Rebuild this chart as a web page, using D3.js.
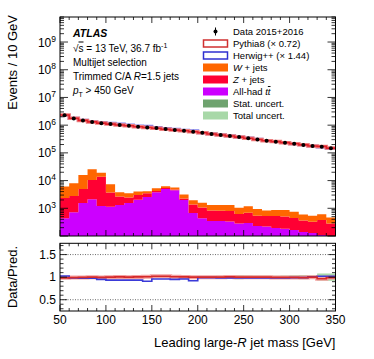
<!DOCTYPE html>
<html>
<head>
<meta charset="utf-8">
<script src="https://cdn.jsdelivr.net/npm/d3@7"></script>
<style>
  body { margin: 0; background: #fff; }
  svg { display: block; font-family: "Liberation Sans", Arial, Helvetica, sans-serif; }
</style>
</head>
<body>
<svg id="viz"></svg>
<script>
// bin edges of the leading large-R jet mass [GeV]
var edges = [50,60,70,80,90,100,110,120,130,140,150,160,170,180,190,200,210,220,230,240,250,260,270,280,290,300,310,320,330,340,350];

// events / 10 GeV
var dataEvents = [2300000,1750000,1480000,1310000,1180000,1090000,1020000,950000,880000,830000,790000,730000,670000,630000,580000,530000,480000,440000,410000,370000,337000,305000,275000,254000,233000,213000,193000,177000,165000,147000];
var ttbar = [435,720,1550,2110,1210,1140,1320,1550,2040,2560,3810,4980,4460,2000,680,435,350,350,335,280,295,230,220,195,182,165,140,128,109,80];
var zjets = [1925,2060,3430,8390,12590,2580,1350,900,980,920,410,430,310,260,690,635,480,470,465,340,395,310,310,335,328,285,220,202,271,200];
var wjets = [3740,5220,10920,15100,5500,3680,1110,1030,1020,630,1060,820,870,890,570,520,480,490,510,430,500,400,300,340,360,300,240,210,230,190];

// data / prediction
var ratioPythia = [0.985,0.99,0.995,1.0,0.995,1.0,1.005,1.0,1.005,1.01,1.02,1.02,1.01,1.005,1.0,1.0,1.0,1.0,1.005,1.0,1.0,1.0,1.0,0.995,0.995,0.995,0.99,1.0,0.965,0.99];
var ratioHerwig = [1.025,0.98,0.978,0.978,0.95,0.935,0.935,0.935,0.935,0.91,0.96,0.96,0.95,0.96,0.92,0.99,0.99,0.985,0.985,0.985,0.985,0.985,0.985,0.985,0.985,0.99,0.99,1.01,1.02,1.02];
var statUnc = [0.005,0.005,0.005,0.005,0.005,0.005,0.005,0.005,0.005,0.005,0.006,0.006,0.006,0.007,0.007,0.008,0.008,0.009,0.01,0.01,0.011,0.012,0.012,0.013,0.014,0.015,0.016,0.017,0.02,0.022];
var totalUnc = [0.015,0.015,0.015,0.015,0.015,0.015,0.015,0.015,0.015,0.015,0.015,0.015,0.015,0.02,0.02,0.025,0.025,0.03,0.04,0.045,0.04,0.035,0.035,0.03,0.035,0.04,0.045,0.04,0.08,0.08];

var xTickLabels = [50,100,150,200,250,300,350];
var ratioTickLabels = [0.5,1,1.5];
var decadeLabels = [3,4,5,6,7,8,9];

var width = 374, height = 359;
var svg = d3.select('#viz').attr('width', width).attr('height', height);

var x = d3.scaleLinear().domain([50, 350]).range([60, 335.5]);
var y = d3.scaleLog().domain([100, 8e9]).range([236, 17]);
var yr = d3.scaleLinear().domain([0.25, 1.75]).range([311, 243.3]);

var nb = dataEvents.length;
var rows = d3.range(nb).map(function(i){
    return {lo: edges[i], hi: edges[i+1], tt: ttbar[i], z: zjets[i], w: wjets[i]};
});

svg.append('clipPath').attr('id', 'clipMain')
   .append('rect').attr('x', 60).attr('y', 17).attr('width', 275.5).attr('height', 219);
svg.append('clipPath').attr('id', 'clipRatio')
   .append('rect').attr('x', 60).attr('y', 243.3).attr('width', 275.5).attr('height', 67.7);

// step points helper: two points per bin
function steps(vals){
    var pts = [];
    vals.forEach(function(v, i){
        pts.push([edges[i], v]);
        pts.push([edges[i+1], v]);
    });
    return pts;
}

/***************** main panel *****************/
var gMain = svg.append('g').attr('clip-path', 'url(#clipMain)');

var stack = d3.stack().keys(['tt', 'z', 'w']);
var layers = stack(rows);
var colors = {tt: '#cc00ff', z: '#ff0033', w: '#ff6600'};

var area = d3.area()
    .x(function(d){ return x(d.x); })
    .y0(function(d){ return y(Math.max(d.y0, 1)); })
    .y1(function(d){ return y(Math.max(d.y1, 1)); });

layers.forEach(function(layer){
    var pts = [];
    layer.forEach(function(d, i){
        pts.push({x: edges[i], y0: d[0], y1: d[1]});
        pts.push({x: edges[i+1], y0: d[0], y1: d[1]});
    });
    gMain.append('path')
         .attr('d', area(pts))
         .attr('fill', colors[layer.key]);
});

var line = d3.line()
    .x(function(d){ return x(d[0]); })
    .y(function(d){ return y(d[1]); });

var herwigPred = dataEvents.map(function(v, i){ return v / ratioHerwig[i]; });
var pythiaPred = dataEvents.map(function(v, i){ return v / ratioPythia[i]; });

gMain.append('path').attr('d', line(steps(herwigPred)))
     .attr('fill', 'none').attr('stroke', '#8080ee').attr('stroke-width', 3);
gMain.append('path').attr('d', line(steps(pythiaPred)))
     .attr('fill', 'none').attr('stroke', '#f08080').attr('stroke-width', 3.5);
gMain.append('path').attr('d', line(steps(pythiaPred)))
     .attr('fill', 'none').attr('stroke', '#e0202a').attr('stroke-width', 1.6);

gMain.selectAll('circle.data')
     .data(dataEvents)
     .enter().append('circle')
     .attr('class', 'data')
     .attr('cx', function(d, i){ return x((edges[i] + edges[i+1]) / 2); })
     .attr('cy', function(d){ return y(d); })
     .attr('r', 2)
     .attr('fill', '#000');

/***************** ratio panel *****************/
var gRatio = svg.append('g').attr('clip-path', 'url(#clipRatio)');

ratioTickLabels.forEach(function(v){
    gRatio.append('line')
          .attr('x1', 60).attr('x2', 335.5)
          .attr('y1', yr(v)).attr('y2', yr(v))
          .attr('stroke', '#444').attr('stroke-width', 0.8)
          .attr('stroke-dasharray', '1,1.5');
});

function bandArea(half){
    var pts = [];
    half.forEach(function(h, i){
        pts.push({x: edges[i], h: h});
        pts.push({x: edges[i+1], h: h});
    });
    return d3.area()
        .x(function(d){ return x(d.x); })
        .y0(function(d){ return yr(1 - d.h); })
        .y1(function(d){ return yr(1 + d.h); })(pts);
}

gRatio.append('path').attr('d', bandArea(totalUnc)).attr('fill', '#a8d8a8');
gRatio.append('path').attr('d', bandArea(statUnc)).attr('fill', '#6fa36f');

var rline = d3.line()
    .x(function(d){ return x(d[0]); })
    .y(function(d){ return yr(d[1]); });

gRatio.append('path').attr('d', rline(steps(ratioPythia)))
      .attr('fill', 'none').attr('stroke', '#f4a0a0').attr('stroke-width', 4);
gRatio.append('path').attr('d', rline(steps(ratioHerwig)))
      .attr('fill', 'none').attr('stroke', '#3a3ad8').attr('stroke-width', 1.6);
gRatio.append('path').attr('d', rline(steps(ratioPythia)))
      .attr('fill', 'none').attr('stroke', '#d42a2a').attr('stroke-width', 1.6);

/***************** frames and ticks *****************/
function frame(top, bottom){
    svg.append('rect')
       .attr('x', 60).attr('y', top)
       .attr('width', 275.5).attr('height', bottom - top)
       .attr('fill', 'none').attr('stroke', '#000').attr('stroke-width', 1);
}
frame(17, 236);
frame(243.3, 311);

var ticks = svg.append('g').attr('stroke', '#000').attr('stroke-width', 0.8);

function xTicks(top, bottom){
    x.ticks(30).forEach(function(v){
        var len = (v % 50 === 0) ? 6 : 3;
        ticks.append('line').attr('x1', x(v)).attr('x2', x(v)).attr('y1', bottom).attr('y2', bottom - len);
        ticks.append('line').attr('x1', x(v)).attr('x2', x(v)).attr('y1', top).attr('y2', top + len);
    });
}
xTicks(17, 236);
xTicks(243.3, 311);

// log y ticks, main panel
y.ticks().forEach(function(v){
    var major = Math.abs(Math.log10(v) - Math.round(Math.log10(v))) < 1e-6;
    var len = major ? 8 : 4;
    ticks.append('line').attr('x1', 60).attr('x2', 60 + len).attr('y1', y(v)).attr('y2', y(v));
    ticks.append('line').attr('x1', 335.5).attr('x2', 335.5 - len).attr('y1', y(v)).attr('y2', y(v));
});

// ratio y ticks
yr.ticks(15).forEach(function(v){
    var major = Math.abs(v * 2 - Math.round(v * 2)) < 1e-6;
    var len = major ? 7 : 3.5;
    ticks.append('line').attr('x1', 60).attr('x2', 60 + len).attr('y1', yr(v)).attr('y2', yr(v));
    ticks.append('line').attr('x1', 335.5).attr('x2', 335.5 - len).attr('y1', yr(v)).attr('y2', yr(v));
});

/***************** labels *****************/
decadeLabels.forEach(function(p){
    var t = svg.append('text')
       .attr('x', 56).attr('y', y(Math.pow(10, p)) + 4.5)
       .attr('text-anchor', 'end')
       .attr('font-size', 12);
    t.append('tspan').text('10');
    t.append('tspan').attr('dy', -5).attr('font-size', 8.5).text(p);
});

ratioTickLabels.forEach(function(v){
    svg.append('text')
       .attr('x', 56).attr('y', yr(v) + 4.3)
       .attr('text-anchor', 'end')
       .attr('font-size', 12)
       .text(v);
});

xTickLabels.forEach(function(v){
    svg.append('text')
       .attr('x', x(v)).attr('y', 324)
       .attr('text-anchor', 'middle')
       .attr('font-size', 12)
       .text(v);
});

svg.append('text')
   .attr('transform', 'translate(17,15) rotate(-90)')
   .attr('text-anchor', 'end')
   .attr('font-size', 13)
   .text('Events / 10 GeV');

svg.append('text')
   .attr('transform', 'translate(17,277) rotate(-90)')
   .attr('text-anchor', 'middle')
   .attr('font-size', 13)
   .text('Data/Pred.');

var xt = svg.append('text')
   .attr('x', 335.5).attr('y', 347)
   .attr('text-anchor', 'end')
   .attr('font-size', 13);
xt.append('tspan').text('Leading large-');
xt.append('tspan').attr('font-style', 'italic').text('R');
xt.append('tspan').text(' jet mass [GeV]');

// ATLAS label block
svg.append('text').attr('x', 73).attr('y', 37)
   .attr('font-size', 10.5).attr('font-weight', 'bold').attr('font-style', 'italic')
   .text('ATLAS');

var t1 = svg.append('text').attr('x', 73).attr('y', 51.5).attr('font-size', 10);
t1.append('tspan').text('\u221A');
t1.append('tspan').attr('text-decoration', 'overline').text('s');
t1.append('tspan').text(' = 13 TeV, 36.7 fb');
t1.append('tspan').attr('dy', -4).attr('font-size', 7).text('-1');

svg.append('text').attr('x', 73).attr('y', 65.5).attr('font-size', 10).text('Multijet selection');

var t3 = svg.append('text').attr('x', 73).attr('y', 80).attr('font-size', 10);
t3.append('tspan').text('Trimmed C/A ');
t3.append('tspan').attr('font-style', 'italic').text('R');
t3.append('tspan').text('=1.5 jets');

var t4 = svg.append('text').attr('x', 73).attr('y', 94).attr('font-size', 10);
t4.append('tspan').attr('font-style', 'italic').text('p');
t4.append('tspan').attr('dy', 2.5).attr('font-size', 7).text('T');
t4.append('tspan').attr('dy', -2.5).text(' > 450 GeV');

/***************** legend *****************/
var legendItems = [
    {kind: 'data', label: ['Data 2015+2016']},
    {kind: 'line', color: '#d03030', label: ['Pythia8 (\u00D7 0.72)']},
    {kind: 'line', color: '#3030d0', label: ['Herwig++ (\u00D7 1.44)']},
    {kind: 'fill', color: '#ff6600', label: ['W', ' + jets']},
    {kind: 'fill', color: '#ff0033', label: ['Z', ' + jets']},
    {kind: 'fill', color: '#cc00ff', label: ['All-had ', 'tt']},
    {kind: 'fill', color: '#6fa36f', label: ['Stat. uncert.']},
    {kind: 'fill', color: '#a8d8a8', label: ['Total uncert.']}
];

legendItems.forEach(function(item, i){
    var cy = 31.5 + i * 12;
    if (item.kind === 'data') {
        svg.append('line').attr('x1', 215.5).attr('x2', 215.5).attr('y1', cy - 4).attr('y2', cy + 4)
           .attr('stroke', '#000').attr('stroke-width', 1);
        svg.append('circle').attr('cx', 215.5).attr('cy', cy).attr('r', 2).attr('fill', '#000');
    } else if (item.kind === 'line') {
        svg.append('rect').attr('x', 203.5).attr('y', cy - 3.5).attr('width', 24).attr('height', 7)
           .attr('fill', '#fff').attr('stroke', item.color).attr('stroke-width', 1.5);
    } else {
        svg.append('rect').attr('x', 203).attr('y', cy - 4).attr('width', 25).attr('height', 8)
           .attr('fill', item.color);
    }
    var t = svg.append('text').attr('x', 233).attr('y', cy + 3.5).attr('font-size', 9.5);
    if (i === 3 || i === 4) {
        t.append('tspan').attr('font-style', 'italic').text(item.label[0]);
        t.append('tspan').text(item.label[1]);
    } else if (i === 5) {
        t.append('tspan').text(item.label[0]);
        t.append('tspan').attr('font-style', 'italic').text('t');
        t.append('tspan').attr('font-style', 'italic').attr('text-decoration', 'overline').text('t');
    } else {
        t.text(item.label[0]);
    }
});
</script>
</body>
</html>
